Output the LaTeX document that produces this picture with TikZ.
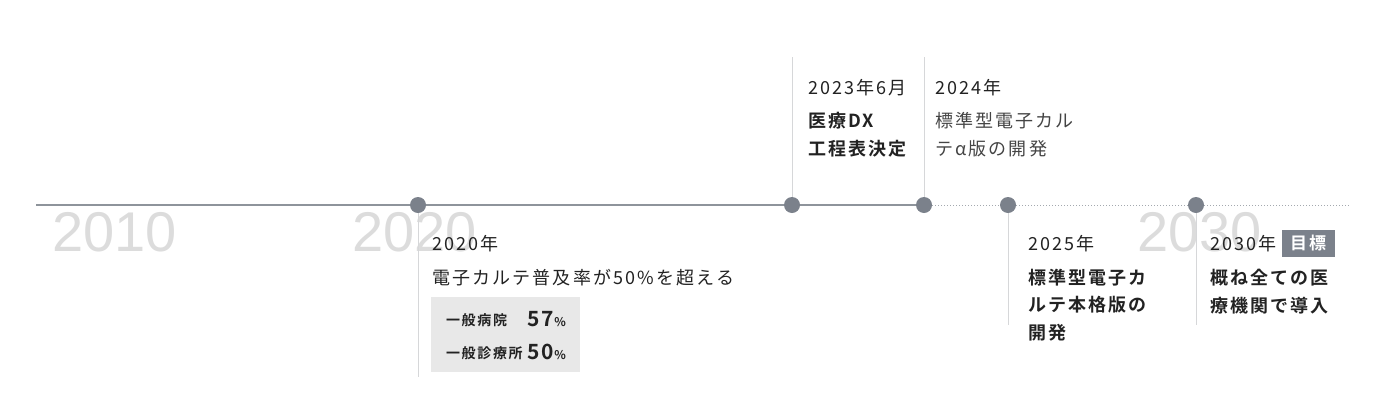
\documentclass[tikz,border=0pt]{standalone}
\usepackage{fontspec}
\setmainfont{Noto Sans CJK JP}[LetterSpace=12, BoldFont={Noto Sans CJK JP Bold}]
\newfontfamily\yearfont{Liberation Sans}
\usepackage{xcolor}
\usetikzlibrary{positioning, backgrounds}

\definecolor{axisgray}{HTML}{8E949B}
\definecolor{dotgray}{HTML}{7B818B}
\definecolor{tickgray}{HTML}{D6D7D9}
\definecolor{yeargray}{HTML}{DCDCDC}
\definecolor{boxgray}{HTML}{E8E8E8}
\definecolor{inkgray}{HTML}{222222}
\definecolor{softink}{HTML}{444444}

\begin{document}
\begin{tikzpicture}[
      x=1pt, y=-1pt,
      every node/.style={inner sep=0pt, outer sep=0pt},
      dot/.style={circle, fill=dotgray, minimum size=16pt},
      bigyear/.style={anchor=base west, text=yeargray, font=\yearfont\fontsize{56}{56}\selectfont},
      txt/.style={anchor=base west, align=left, text=inkgray, font=\fontsize{18}{27.5}\selectfont},
      head/.style={txt, font=\bfseries\fontsize{18}{27.5}\selectfont},
      soft/.style={txt, text=softink},
      small/.style={anchor=base west, text=inkgray, font=\bfseries\fontsize{14}{14}\selectfont},
      rate/.style={anchor=base west, text=inkgray, font=\bfseries\fontsize{21}{21}\selectfont},
      tag/.style={fill=dotgray, text=white, font=\bfseries\fontsize{17}{17}\selectfont, minimum width=53pt, minimum height=27pt},
      axis/.style={axisgray, line width=1.2pt},
      axisdot/.style={axisgray!80, line width=1pt, dotted},
      tick/.style={tickgray, line width=1pt}
  ]
  \useasboundingbox (0,0) rectangle (1392,416);

  % Dots --------------------------------------------------
  \node[dot] (d2020) at (418,205) {};
  \node[dot] (d2023) at (792,205) {};
  \node[dot] (d2024) at (924,205) {};
  \node[dot] (d2025) at (1008,205) {};
  \node[dot] (d2030) at (1196,205) {};

  \coordinate (axisstart) at (36,205);
  \coordinate (axisend)   at (1350,205);
  \coordinate (e2020) at (418,377);
  \coordinate (e2023) at (792,57);
  \coordinate (e2024) at (924,57);
  \coordinate (e2025) at (1008,325);
  \coordinate (e2030) at (1196,325);

  % Years in the back and the axis
  \begin{pgfonlayer}{background}
    \node[bigyear] (y2010) at (52,251) {2010};
    \node[bigyear] (y2020) at (352,251) {2020};
    \node[bigyear] (y2030) at (1137,251) {2030};
    \draw[tick] (d2020) -- (e2020);
    \draw[tick] (d2023) -- (e2023);
    \draw[tick] (d2024) -- (e2024);
    \draw[tick] (d2025) -- (e2025);
    \draw[tick] (d2030) -- (e2030);
    \draw[axis] (axisstart) -- (d2020) -- (d2023) -- (d2024);
    \draw[axisdot] (d2024) -- (d2025) -- (d2030) -- (axisend);
  \end{pgfonlayer}

  % 2020 --------------------------------------------------
  \node[txt] (h2020) at (432,250) {2020年};
  \node[txt] (b2020) at (432,284) {電子カルテ普及率が50\%を超える};
  \node[fill=boxgray, anchor=north west, minimum width=149pt, minimum height=75pt] (rates) at (431,297) {};
  \node[small] (hosp)  at (446,325) {一般病院};
  \node[rate]  (hospv) at (527,326) {57{\fontsize{12}{12}\selectfont\%}};
  \node[small] (clin)  at (446,358) {一般診療所};
  \node[rate]  (clinv) at (527,359) {50{\fontsize{12}{12}\selectfont\%}};

  % 2023 / 2024 (multi-line nodes sit on their last line)
  \node[txt]  (h2023) at (808,94) {2023年6月};
  \node[head] (b2023) at (808,155) {医療DX\\工程表決定};
  \node[txt]  (h2024) at (935,94) {2024年};
  \node[soft] (b2024) at (935,155) {標準型電子カル\\テα版の開発};

  % 2025 / 2030 -------------------------------------------
  \node[txt]  (h2025) at (1028,250) {2025年};
  \node[head] (b2025) at (1028,339) {標準型電子カ\\ルテ本格版の\\開発};
  \node[txt]  (h2030) at (1210,250) {2030年};
  \node[tag, right=5pt of h2030] (goal) {目標};
  \node[head] (b2030) at (1210,312) {概ね全ての医\\療機関で導入};
\end{tikzpicture}
\end{document}
